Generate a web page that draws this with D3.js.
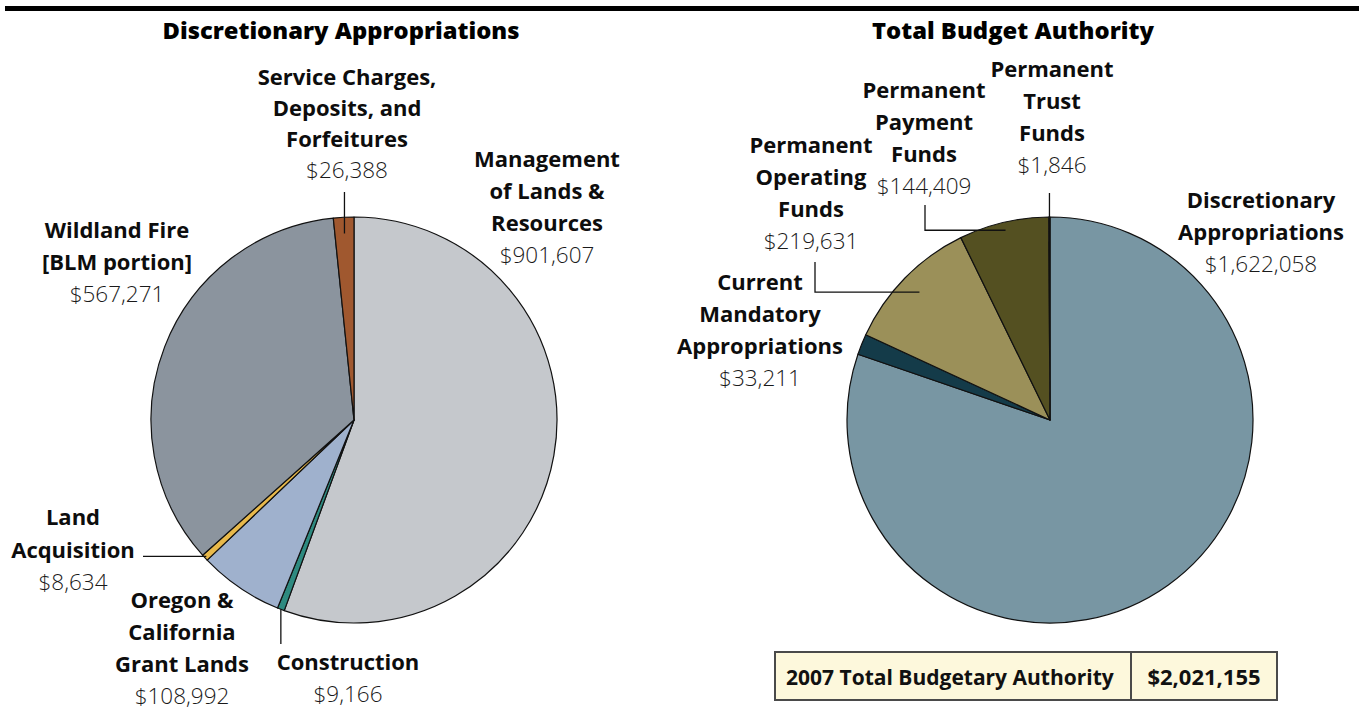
<!DOCTYPE html>
<html><head><meta charset="utf-8">
<script src="https://cdn.jsdelivr.net/npm/d3@7"></script>
<style>
html,body{margin:0;padding:0;background:#fff;}
svg{display:block;}
text{font-family:"Open Sans","Noto Sans",sans-serif;}
</style></head>
<body>
<svg id="chart" width="1359" height="715"></svg>
<script>
// ---------- data ----------
const leftCategories = ["Management of Lands & Resources","Construction","Oregon & California Grant Lands","Land Acquisition","Wildland Fire [BLM portion]","Service Charges, Deposits, and Forfeitures"];
const leftValues = [901607, 9166, 108992, 8634, 567271, 26388];
const leftColors = ["#c5c8cc","#2e8a80","#9fb1cd","#e8b94b","#8b949e","#a0582f"];

const rightCategories = ["Discretionary Appropriations","Current Mandatory Appropriations","Permanent Operating Funds","Permanent Payment Funds","Permanent Trust Funds"];
const rightValues = [1622058, 33211, 219631, 144409, 1846];
const rightColors = ["#7896a3","#143b49","#9b9059","#545021","#efd58e"];

const titles = ["Discretionary Appropriations","Total Budget Authority"];
const totalLabel = "2007 Total Budgetary Authority";
const totalValue = 2021155;

// ---------- layout (label placement) ----------
const leftLabels = [
  {lines:["Management","of Lands &","Resources"], x:547, y:167, lh:32},
  {lines:["Construction"], x:348, y:670, lh:32, leader:{mode:"v", rf:1.0, toY:644}},
  {lines:["Oregon &","California","Grant Lands"], x:182, y:608, lh:32},
  {lines:["Land","Acquisition"], x:73, y:525, lh:32.5, leader:{mode:"h", rf:0.99, fromX:143}},
  {lines:["Wildland Fire","[BLM portion]"], x:117, y:238, lh:32},
  {lines:["Service Charges,","Deposits, and","Forfeitures"], x:347, y:85, lh:31, leader:{mode:"v", rf:0.92, fromY:192}}
];
const rightLabels = [
  {lines:["Discretionary","Appropriations"], x:1261, y:208, lh:32},
  {lines:["Current","Mandatory","Appropriations"], x:760, y:290, lh:32},
  {lines:["Permanent","Operating","Funds"], x:811, y:153, lh:32, leader:{mode:"vh", rf:0.90, fromX:815, fromY:262}},
  {lines:["Permanent","Payment","Funds"], x:924, y:98, lh:32, leader:{mode:"vh", rf:0.96, fromX:925, fromY:205}},
  {lines:["Permanent","Trust","Funds"], x:1052, y:77, lh:32, leader:{mode:"v", rf:0.936, fromY:193}}
];

const svg = d3.select("#chart");
const fmt = d3.format(",");
const R = 203;

// top rule
svg.append("rect").attr("x",5).attr("y",6).attr("width",1354).attr("height",5).attr("fill","#000");

// titles
const titleX = [341, 1013];
titles.forEach((t,i)=>{
  svg.append("text").attr("x",titleX[i]).attr("y",39).attr("text-anchor","middle")
    .attr("font-size",23).attr("font-weight",800).attr("fill","#000")
    .attr("textLength", i===0?357:282).attr("lengthAdjust","spacingAndGlyphs")
    .text(t);
});

function drawPie(cx, cy, cats, vals, cols, labels){
  const data = cats.map((c,i)=>({cat:c, value:vals[i], color:cols[i], label:labels[i]}));
  const pie = d3.pie().sort(null).value(d=>d.value);
  const arcs = pie(data);
  const arc = d3.arc().innerRadius(0).outerRadius(R);
  const g = svg.append("g").attr("transform",`translate(${cx},${cy})`);
  g.selectAll("path").data(arcs).join("path")
    .attr("d",arc).attr("fill",d=>d.data.color)
    .attr("stroke","#111").attr("stroke-width",1.2).attr("stroke-linejoin","round");

  arcs.forEach(a=>{
    const L = a.data.label;
    const mid = (a.startAngle + a.endAngle)/2;
    const t = svg.append("text").attr("text-anchor","middle").attr("fill","#0d0d0d");
    L.lines.forEach((ln,k)=>{
      t.append("tspan").attr("x",L.x).attr("y",L.y + k*L.lh)
       .attr("font-size",22).attr("font-weight",700).text(ln);
    });
    t.append("tspan").attr("x",L.x).attr("y",L.y + L.lines.length*L.lh)
      .attr("font-size",22.5).attr("font-weight",300).attr("fill","#1a1a1a").text("$"+fmt(a.data.value));
    if(L.leader){
      const ld = L.leader;
      const ex = cx + R*ld.rf*Math.sin(mid);
      const ey = cy - R*ld.rf*Math.cos(mid);
      let pts;
      if(ld.mode==="v"){
        pts = ld.toY!==undefined ? [[ex,ey],[ex,ld.toY]] : [[ex,ld.fromY],[ex,ey]];
      } else if(ld.mode==="h"){
        pts = [[ld.fromX,ey],[ex,ey]];
      } else {
        pts = [[ld.fromX,ld.fromY],[ld.fromX,ey],[ex,ey]];
      }
      svg.append("path").attr("d",d3.line()(pts)).attr("fill","none")
        .attr("stroke","#111").attr("stroke-width",1.3);
    }
  });
}

drawPie(354, 420, leftCategories, leftValues, leftColors, leftLabels);
drawPie(1050, 420, rightCategories, rightValues, rightColors, rightLabels);

// total box
const bx = 775, by = 652, bw = 502, bh = 48, div = 1131;
svg.append("rect").attr("x",bx).attr("y",by).attr("width",bw).attr("height",bh)
  .attr("fill","#fdf8dc").attr("stroke","#4a4a4a").attr("stroke-width",2);
svg.append("line").attr("x1",div).attr("x2",div).attr("y1",by).attr("y2",by+bh)
  .attr("stroke","#4a4a4a").attr("stroke-width",2);
svg.append("text").attr("x",786).attr("y",685).attr("font-size",21).attr("font-weight",700)
  .attr("fill","#111").text(totalLabel);
svg.append("text").attr("x",(div+bx+bw)/2).attr("y",685).attr("text-anchor","middle")
  .attr("font-size",22).attr("font-weight",700).attr("fill","#111").text("$"+fmt(totalValue));
</script>
</body></html>
